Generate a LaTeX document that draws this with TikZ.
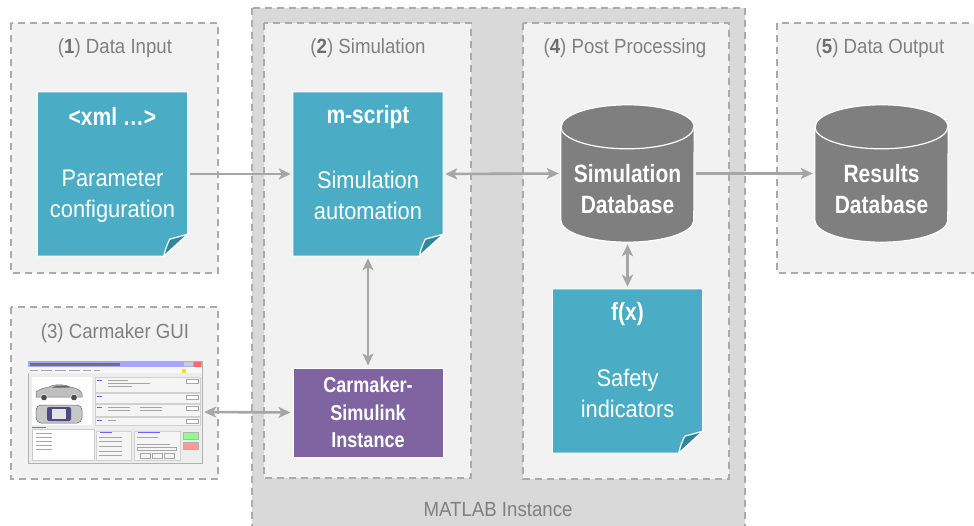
\documentclass[tikz,border=0pt]{standalone}
\usepackage{fontspec}
\setmainfont{Liberation Sans}[FakeStretch=0.91]
\newfontfamily\condbf{Liberation Sans Bold}[FakeStretch=0.84]
\usetikzlibrary{arrows.meta}

\definecolor{boxbg}{HTML}{F2F2F2}
\definecolor{matlabbg}{HTML}{D9D9D9}
\definecolor{dashgray}{HTML}{ABABAB}
\definecolor{titlegray}{HTML}{808080}
\definecolor{numgray}{HTML}{6E6E6E}
\definecolor{docblue}{HTML}{4BACC6}
\definecolor{folddark}{HTML}{31859C}
\definecolor{simpurple}{HTML}{8064A2}
\definecolor{cylgray}{HTML}{7F7F7F}
\definecolor{arrowgray}{HTML}{A6A6A6}

\tikzset{
  group/.style={fill=boxbg, draw=dashgray, line width=1.6pt, dash pattern=on 7pt off 5pt},
  grouptitle/.style={text=titlegray, font=\fontsize{20.5}{22}\selectfont, inner sep=0pt},
  docbox/.style={minimum width=150pt, minimum height=164pt, inner sep=0pt},
  doctitle/.style={text=white, font=\condbf\fontsize{25}{27}\selectfont, inner sep=0pt},
  doctext/.style={text=white, font=\fontsize{24}{31}\selectfont, align=center, inner sep=0pt},
  cylbox/.style={minimum width=133pt, minimum height=137pt, inner sep=0pt,
    text=white, font=\condbf\fontsize{25}{31.5}\selectfont, align=center},
  simbox/.style={fill=simpurple, draw=white, line width=1pt, minimum width=150pt,
    minimum height=89pt, inner sep=0pt, text=white, align=center,
    font=\condbf\fontsize{21.5}{27.5}\selectfont},
  guibox/.style={minimum width=174pt, minimum height=102pt, inner sep=0pt},
  conn/.style={draw=arrowgray, line width=2.6pt, -{Stealth[length=12pt, width=11pt, inset=3pt]},
    shorten >=2pt, shorten <=2pt},
  biconn/.style={conn, {Stealth[length=12pt, width=11pt, inset=3pt]}-{Stealth[length=12pt, width=11pt, inset=3pt]}},
  guiline/.style={draw=black!35, line width=0.6pt},
}

% page with a dog-eared lower right corner, drawn on the frame of node #1
\newcommand\docshape[1]{%
  \filldraw[fill=docblue, draw=white, line width=1pt]
    (#1.north west) -- (#1.north east) -- ([yshift=22pt]#1.south east)
    -- ([xshift=-24pt]#1.south east) -- (#1.south west) -- cycle;
  \filldraw[fill=folddark, draw=white, line width=1.2pt]
    ([xshift=-24pt]#1.south east)
    .. controls ([xshift=-22pt,yshift=8pt]#1.south east) .. ([xshift=-18pt,yshift=17pt]#1.south east)
    -- ([yshift=22pt]#1.south east) -- cycle;
}

% database drum on the frame of node #1
\newcommand\drumshape[1]{%
  \filldraw[fill=cylgray, draw=white, line width=1.2pt]
    ([yshift=-22pt]#1.north west) -- ([yshift=22pt]#1.south west)
    arc[start angle=180, end angle=360, x radius=66.5pt, y radius=22pt]
    -- ([yshift=-22pt]#1.north east)
    arc[start angle=0, end angle=180, x radius=66.5pt, y radius=22pt] -- cycle;
  \draw[white, line width=1.2pt] ([yshift=-22pt]#1.north west)
    arc[start angle=180, end angle=360, x radius=66.5pt, y radius=22pt];
}

\begin{document}
\begin{tikzpicture}[x=1pt, y=-1pt]
\useasboundingbox (0,0) rectangle (974,526);
\fill[white] (0,0) rectangle (974,526);

% MATLAB instance frame
\filldraw[fill=matlabbg, draw=dashgray, line width=1.6pt, dash pattern=on 7pt off 5pt]
  (252,8) rectangle (745,545);
\node[grouptitle] (matlab) at (498,510) {MATLAB Instance};

% stage frames
\filldraw[group] (11,23) rectangle (218,273);
\filldraw[group] (11,307) rectangle (218,479);
\filldraw[group] (264,23) rectangle (471,478);
\filldraw[group] (523,23) rectangle (729,479);
\filldraw[group] (777,23) rectangle (995,273);

\node[grouptitle] (t1) at (115,48) {(\textcolor{numgray}{\textbf{1}}) Data Input};
\node[grouptitle] (t3) at (115,333) {(3) Carmaker GUI};
\node[grouptitle] (t2) at (368,48) {(\textcolor{numgray}{\textbf{2}}) Simulation};
\node[grouptitle] (t4) at (625,48) {(\textcolor{numgray}{\textbf{4}}) Post Processing};
\node[grouptitle] (t5) at (880,48) {(\textcolor{numgray}{\textbf{5}}) Data Output};

% documents
\node[docbox] (param) at (112.5,174) {};
\docshape{param}
\node[doctitle] (paramtitle) at (112.5,116) {<xml \ldots>};
\node[doctext] (paramtext) at (112.5,196) {Parameter\\configuration};

\node[docbox] (mscript) at (368,174) {};
\docshape{mscript}
\node[doctitle] (mscripttitle) at (368,117) {m-script};
\node[doctext] (mscripttext) at (368,195) {Simulation\\automation};

\node[docbox] (safety) at (627.5,371) {};
\docshape{safety}
\node[doctitle] (safetytitle) at (627.5,314) {f(x)};
\node[doctext] (safetytext) at (627.5,393) {Safety\\indicators};

% databases
\node[cylbox] (simdb) at (627.5,173.5) {};
\drumshape{simdb}
\node[cylbox, minimum height=0pt] (simdbtext) at (627.5,189) {Simulation\\Database};

\node[cylbox] (resdb) at (881.5,173.5) {};
\drumshape{resdb}
\node[cylbox, minimum height=0pt] (resdbtext) at (881.5,189) {Results\\Database};

% Simulink block
\node[simbox] (cmsl) at (368,412.5) {Carmaker-\\Simulink\\Instance};

% Carmaker GUI window
\node[guibox] (gui) at (115,412) {};
\begin{scope}
  \filldraw[fill=black!7, draw=black!30, line width=0.6pt] (28,361) rectangle (202,463);
  \fill[blue!35!white] (28,361) rectangle (202,367);
  \fill[black!55] (30,362.5) rectangle (120,365.5);
  \fill[red!60!white] (194,361.5) rectangle (201,366.5);
  \fill[black!20] (184,362) rectangle (193,366);
  \fill[black!3] (28,367) rectangle (202,373);
  \foreach \a/\b in {30/38,41/52,55/66,69/80,83/91,94/100}
    \draw[guiline] (\a,370) -- (\b,370);
  \fill[yellow!80!orange] (184,371) circle (2.2pt);
  % vehicle picture
  \fill[white] (32,377) rectangle (92,425);
  \filldraw[fill=black!25, draw=black!55, line width=0.5pt]
    (36,397) -- (36,392) .. controls (40,389) and (44,388) .. (49,387)
    .. controls (54,384) and (64,384) .. (70,387) .. controls (76,388) and (81,390) .. (82,394)
    -- (82,397) -- cycle;
  \fill[black!60] (52,387.5) -- (57,385.5) -- (66,385.5) -- (70,387.5) -- cycle;
  \filldraw[fill=black!70, draw=white, line width=0.5pt] (44,397.5) circle (3.3pt);
  \filldraw[fill=black!70, draw=white, line width=0.5pt] (74,397.5) circle (3.3pt);
  \filldraw[fill=black!22, draw=black!60, line width=0.5pt, rounded corners=5pt]
    (36,405) rectangle (82,423);
  \fill[blue!30!black!70, rounded corners=2pt] (47,407) rectangle (71,421);
  \fill[black!10] (52,409) rectangle (66,419);
  % settings rows
  \foreach \y/\h in {377/15, 393/10, 404/12, 417/8} {
    \filldraw[fill=black!4, draw=black!18, line width=0.4pt] (95,\y) rectangle (200,\y+\h);
    \filldraw[fill=white, draw=black!35, line width=0.4pt] (186,\y+2) rectangle (198,\y+6);
    \draw[guiline, blue!60] (97,\y+3) -- (102,\y+3);
  }
  \draw[guiline] (108,380) -- (128,380);
  \draw[guiline] (108,383.5) -- (150,383.5);
  \draw[guiline] (108,386.5) -- (132,386.5);
  \draw[guiline] (108,407) -- (130,407);
  \draw[guiline] (140,407) -- (162,407);
  \draw[guiline] (108,410) -- (130,410);
  \draw[guiline] (140,410) -- (162,410);
  \draw[guiline] (108,420) -- (116,420);
  % lower panels
  \filldraw[fill=white, draw=black!20, line width=0.4pt] (32,429) rectangle (94,460);
  \draw[guiline, blue!60] (32,427.5) -- (46,427.5);
  \foreach \y in {433,437,441,445,449} \draw[guiline] (36,\y) -- (52,\y);
  \filldraw[fill=black!4, draw=black!18, line width=0.4pt] (96,431) rectangle (131,460);
  \draw[guiline, blue!60] (100,432.5) -- (112,432.5);
  \foreach \y in {437,441,446,451,455} \draw[guiline] (99,\y) -- (122,\y);
  \filldraw[fill=black!4, draw=black!18, line width=0.4pt] (134,431) rectangle (180,460);
  \draw[guiline, blue!60] (138,432.5) -- (160,432.5);
  \draw[guiline] (137,437) -- (158,437);
  \draw[guiline] (137,444) -- (170,444);
  \draw[black!35, line width=0.4pt] (137,447) rectangle (176,450);
  \foreach \a in {140,152,164}
    \draw[black!35, line width=0.4pt] (\a,453) rectangle (\a+10,458);
  \filldraw[fill=green!45!white, draw=black!30, line width=0.4pt] (183,432) rectangle (198,439);
  \filldraw[fill=red!40!white, draw=black!30, line width=0.4pt] (183,442) rectangle (198,449);
\end{scope}

% data flow
\draw[conn] (param.east) -- (mscript.west);
\draw[biconn] (mscript.east) -- (simdb.west);
\draw[conn] (simdb.east) -- (resdb.west);
\draw[biconn] (mscript.south) -- (cmsl.north);
\draw[biconn] (simdb.south) -- (safety.north);
\draw[biconn] (gui.east) -- (cmsl.west);
\end{tikzpicture}
\end{document}
